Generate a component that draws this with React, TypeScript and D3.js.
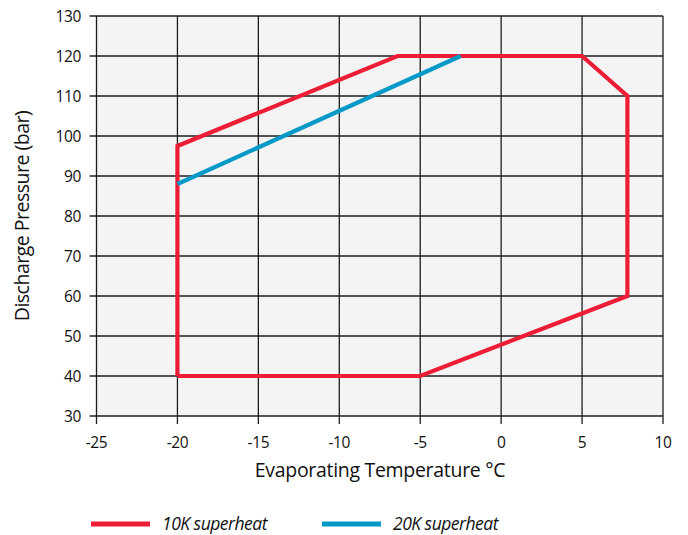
import React from "react";
import * as d3 from "d3";

const xTicks = [-25, -20, -15, -10, -5, 0, 5, 10];
const yTicks = [30, 40, 50, 60, 70, 80, 90, 100, 110, 120, 130];

const envelope10K: [number, number][] = [
  [-20, 40],
  [-20, 97.5],
  [-6.4, 120],
  [5, 120],
  [7.8, 110],
  [7.8, 60],
  [-5, 40],
  [-20, 40],
];
const line20K: [number, number][] = [
  [-20, 88],
  [-2.5, 120],
];

const seriesNames = ["10K superheat", "20K superheat"];
const seriesColors = ["#ee1d36", "#0599c8"];

const W = 688;
const H = 535;
const L = 96.5, R = 663, T = 16, B = 416;

export default function App() {
  const x = d3.scaleLinear().domain([-25, 10]).range([L, R]);
  const y = d3.scaleLinear().domain([30, 130]).range([B, T]);
  const line = d3
    .line<[number, number]>()
    .x((d) => x(d[0]))
    .y((d) => y(d[1]));
  const font = "'Open Sans', 'Noto Sans', sans-serif";
  const grid = "#1e1e1e";
  return (
    <svg
      width={W}
      height={H}
      style={{ position: "absolute", left: 0, top: 0, background: "#fff" }}
      fontFamily={font}
    >
      <rect x={L} y={T} width={R - L} height={B - T} fill="#f4f4f4" />
      {xTicks.map((t) => (
        <g key={"x" + t}>
          <line x1={x(t)} x2={x(t)} y1={T} y2={B + 8} stroke={grid} strokeWidth={1.3} />
          <text x={x(t)} y={448} textAnchor="middle" fontSize={15.5} letterSpacing={-0.4} fill="#111">
            {t}
          </text>
        </g>
      ))}
      {yTicks.map((t) => (
        <g key={"y" + t}>
          <line x1={L - 7} x2={R} y1={y(t)} y2={y(t)} stroke={grid} strokeWidth={1.3} />
          <text x={81} y={y(t) + 5.5} textAnchor="end" fontSize={15.5} letterSpacing={-0.4} fill="#111">
            {t}
          </text>
        </g>
      ))}
      <path d={line(envelope10K) || ""} fill="none" stroke={seriesColors[0]} strokeWidth={4.2} strokeLinejoin="miter" />
      <path d={line(line20K) || ""} fill="none" stroke={seriesColors[1]} strokeWidth={4.2} />
      <text x={380} y={477} textAnchor="middle" fontSize={19.5} letterSpacing={-0.3} fill="#111">
        Evaporating Temperature °C
      </text>
      <text
        transform={`translate(29,${(T + B) / 2}) rotate(-90)`}
        textAnchor="middle"
        fontSize={19.5}
        letterSpacing={-0.5}
        fill="#111"
      >
        Discharge Pressure (bar)
      </text>
      {seriesNames.map((n, i) => (
        <g key={n} transform={`translate(${91 + i * 231},0)`}>
          <line x1={0} x2={59} y1={524} y2={524} stroke={seriesColors[i]} strokeWidth={5} />
          <text x={71} y={529.5} fontSize={17.5} letterSpacing={-0.5} fontStyle="italic" fill="#111">
            {n}
          </text>
        </g>
      ))}
    </svg>
  );
}
